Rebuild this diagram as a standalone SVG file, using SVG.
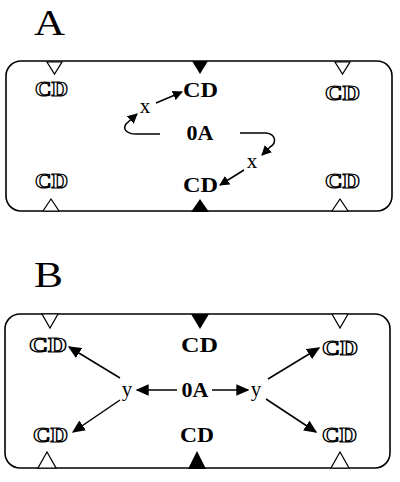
<svg xmlns="http://www.w3.org/2000/svg" width="400" height="482" viewBox="0 0 400 482">
<defs>
<style>
.box{fill:none;stroke:#000;stroke-width:1.6}
.lbl{font-family:"Liberation Serif",serif;font-size:36px;fill:#000}
.cd{font-family:"Liberation Serif",serif;font-weight:bold;font-size:22px;fill:#000}
.cdo{font-family:"Liberation Serif",serif;font-weight:bold;font-size:21px;fill:#fff;stroke:#000;stroke-width:1.2}
.oa{font-family:"Liberation Serif",serif;font-weight:bold;font-size:22px;fill:#000}
.v{font-family:"Liberation Serif",serif;font-size:21px;fill:#000}
.tri{fill:#fff;stroke:#000;stroke-width:1.2}
.trif{fill:#000}
.edge{fill:none;stroke:#000;stroke-width:1.5}
</style>
<marker id="ah" viewBox="0 0 10 10" refX="9" refY="5" markerWidth="10" markerHeight="10" markerUnits="userSpaceOnUse" orient="auto">
<path d="M0,0 L10,5 L0,10 z" fill="#000"/>
</marker>
<marker id="ahb" viewBox="0 0 10 10" refX="9" refY="5" markerWidth="13" markerHeight="13" markerUnits="userSpaceOnUse" orient="auto">
<path d="M0,0.5 L10,5 L0,9.5 z" fill="#000"/>
</marker>
</defs>

<!-- Panel A -->
<g id="panelA">
<text class="lbl" x="34" y="35" textLength="31" lengthAdjust="spacingAndGlyphs">A</text>
<rect class="box" x="6" y="61" width="386" height="150" rx="15"/>
<path class="tri" d="M47,62 L62,62 L54.5,74 z"/>
<path class="trif" d="M192,61 L208,61 L200,74 z"/>
<path class="tri" d="M335,62 L350,62 L342.5,74 z"/>
<path class="tri" d="M43,211 L59,211 L51,199 z"/>
<path class="trif" d="M191,212 L209,212 L200,199 z"/>
<path class="tri" d="M332,211 L348,211 L340,199 z"/>
</g>
<g id="A_cd_tl"><text class="cdo" x="35" y="96" textLength="33" lengthAdjust="spacingAndGlyphs">CD</text></g>
<g id="A_cd_tc"><text class="cd" x="183" y="97" textLength="35" lengthAdjust="spacingAndGlyphs">CD</text></g>
<g id="A_cd_tr"><text class="cdo" x="325" y="100" textLength="35" lengthAdjust="spacingAndGlyphs">CD</text></g>
<g id="A_cd_bl"><text class="cdo" x="35" y="188" textLength="33" lengthAdjust="spacingAndGlyphs">CD</text></g>
<g id="A_cd_bc"><text class="cd" x="183" y="192" textLength="35" lengthAdjust="spacingAndGlyphs">CD</text></g>
<g id="A_cd_br"><text class="cdo" x="325" y="188" textLength="35" lengthAdjust="spacingAndGlyphs">CD</text></g>
<g id="A_0A"><text class="oa" x="200" y="140" text-anchor="middle">0A</text></g>
<g id="A_x1"><text class="v" x="145" y="113" text-anchor="middle">x</text></g>
<g id="A_x2"><text class="v" x="252" y="168" text-anchor="middle">x</text></g>
<g id="A_edges">
<path class="edge" d="M160,134 L136,134 C128,134 122,130 126,124 L137,114" marker-end="url(#ah)"/>
<path class="edge" d="M156,103 L182,92" marker-end="url(#ah)"/>
<path class="edge" d="M240,133 L266,133 C276,134 277,143 270,147 L262,155" marker-end="url(#ah)"/>
<path class="edge" d="M244,170 L220,185" marker-end="url(#ah)"/>
</g>

<!-- Panel B -->
<g id="panelB">
<text class="lbl" x="34" y="287" textLength="29" lengthAdjust="spacingAndGlyphs">B</text>
<rect class="box" x="5" y="314" width="385" height="154" rx="15"/>
<path class="tri" d="M42,314 L58,314 L50,328 z"/>
<path class="trif" d="M191,314 L209,314 L200,329 z"/>
<path class="tri" d="M332,314 L348,314 L340,328 z"/>
<path class="tri" d="M38,468 L56,468 L47,452 z"/>
<path class="trif" d="M188,469 L206,469 L197,451 z"/>
<path class="tri" d="M331,468 L349,468 L340,452 z"/>
</g>
<g id="B_cd_tl"><text class="cdo" x="29" y="352" textLength="38" lengthAdjust="spacingAndGlyphs">CD</text></g>
<g id="B_cd_tc"><text class="cd" x="181" y="352" textLength="37" lengthAdjust="spacingAndGlyphs">CD</text></g>
<g id="B_cd_tr"><text class="cdo" x="322" y="355" textLength="36" lengthAdjust="spacingAndGlyphs">CD</text></g>
<g id="B_cd_bl"><text class="cdo" x="33" y="442" textLength="35" lengthAdjust="spacingAndGlyphs">CD</text></g>
<g id="B_cd_bc"><text class="cd" x="180" y="442" textLength="34" lengthAdjust="spacingAndGlyphs">CD</text></g>
<g id="B_cd_br"><text class="cdo" x="322" y="442" textLength="35" lengthAdjust="spacingAndGlyphs">CD</text></g>
<g id="B_0A"><text class="oa" x="195" y="397" text-anchor="middle">0A</text></g>
<g id="B_y1"><text class="v" x="127" y="396" text-anchor="middle" font-size="23">y</text></g>
<g id="B_y2"><text class="v" x="256" y="396" text-anchor="middle" font-size="23">y</text></g>
<g id="B_edges">
<path class="edge" d="M177,390 L137,390" marker-end="url(#ahb)"/>
<path class="edge" d="M212,390 L248,390" marker-end="url(#ahb)"/>
<path class="edge" d="M120,378 L69,347" marker-end="url(#ahb)"/>
<path class="edge" d="M120,400 L73,432" marker-end="url(#ahb)"/>
<path class="edge" d="M268,379 L319,348" marker-end="url(#ahb)"/>
<path class="edge" d="M266,399 L316,432" marker-end="url(#ahb)"/>
</g>
</svg>
